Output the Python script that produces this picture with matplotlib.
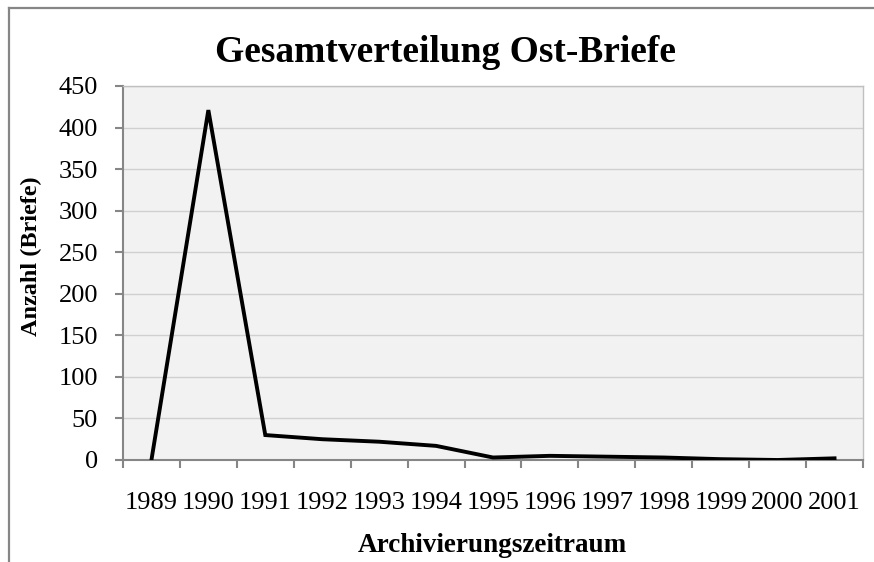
import numpy as np
import matplotlib.pyplot as plt
from matplotlib.lines import Line2D

jahre = ['1989', '1990', '1991', '1992', '1993', '1994', '1995',
         '1996', '1997', '1998', '1999', '2000', '2001']
anzahl = [0, 421, 30, 25, 22, 17, 3, 5, 4, 3, 1, 0, 2]

plt.rcParams['font.family'] = ['Liberation Serif', 'DejaVu Serif']

fig = plt.figure(figsize=(8.74, 5.62), dpi=100)
ax = fig.add_axes([0.1407, 0.1815, 0.8467, 0.6655])
ax.set_facecolor('#F2F2F2')

x = np.arange(len(jahre))
ax.plot(x, anzahl, color='black', lw=2.8, solid_joinstyle='miter', zorder=3)

ax.set_xlim(-0.5, len(jahre) - 0.5)
ax.set_ylim(0, 450)
ax.set_yticks(np.arange(0, 451, 50))
ax.set_xticks(x)
ax.set_xticklabels(jahre)
ax.set_xticks(np.arange(-0.5, len(jahre)), minor=True)

ax.grid(axis='y', color='#D0D0D0', lw=1)
ax.set_axisbelow(True)

ax.tick_params(axis='x', which='major', length=0, pad=23, labelsize=19)
ax.tick_params(axis='x', which='minor', length=6, width=1.5, color='#868686')
ax.tick_params(axis='y', length=6, width=1.5, color='#868686', pad=12, labelsize=19)

for s in ['left', 'bottom']:
    ax.spines[s].set_color('#868686')
    ax.spines[s].set_linewidth(1.5)
for s in ['top', 'right']:
    ax.spines[s].set_color('#C0C0C0')
    ax.spines[s].set_linewidth(1)

fig.text(0.51, 0.906, 'Gesamtverteilung Ost-Briefe', ha='center', va='center',
         fontsize=27, fontweight='bold')
fig.text(0.036, 0.544, 'Anzahl (Briefe)', rotation=90, ha='center', va='center',
         fontsize=17.5, fontweight='bold')
fig.text(0.563, 0.03, 'Archivierungszeitraum', ha='center', va='center',
         fontsize=19.5, fontweight='bold')

# Rahmen des Diagramms (rechts und unten abgeschnitten)
fig.add_artist(Line2D([0.0103, 1.0], [0.986, 0.986], color='#868686', lw=1.6,
                      transform=fig.transFigure))
fig.add_artist(Line2D([0.0103, 0.0103], [0.0, 0.986], color='#868686', lw=1.6,
                      transform=fig.transFigure))

plt.savefig('out.png', dpi=100)
